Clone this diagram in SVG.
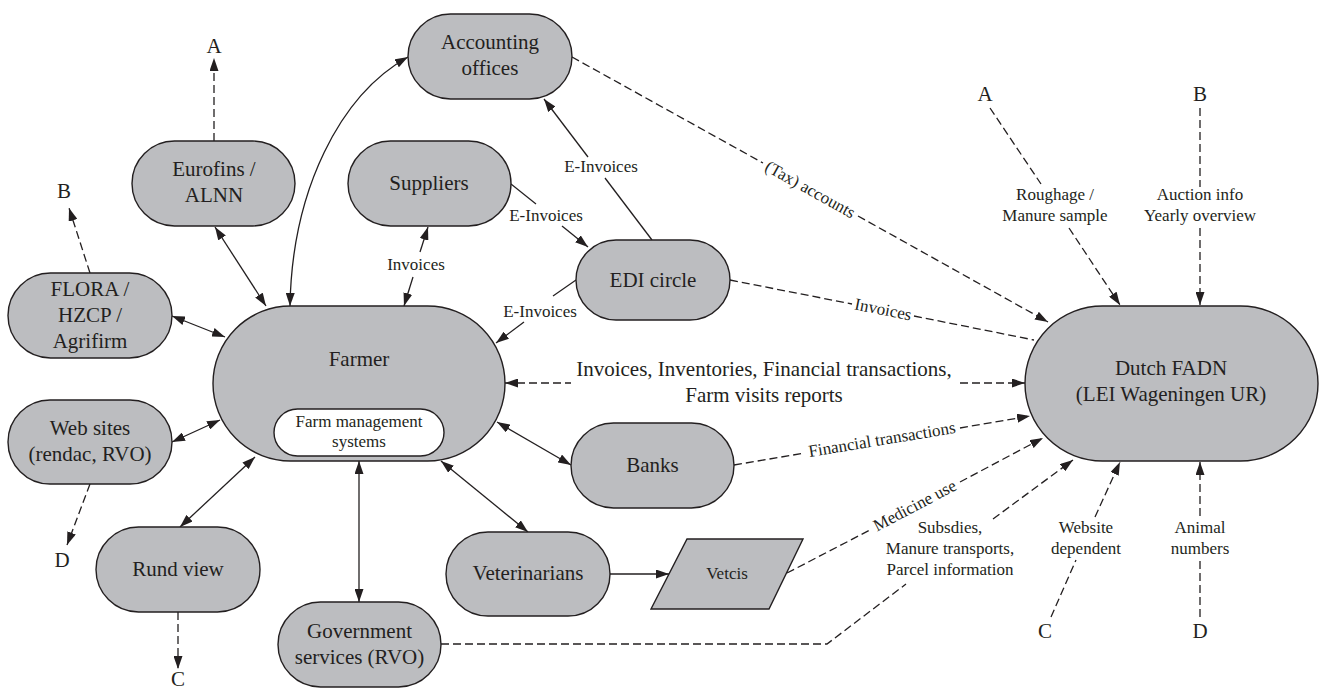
<svg xmlns="http://www.w3.org/2000/svg" width="1320" height="689" viewBox="0 0 1320 689">
<style>
.n{fill:#bcbdc0;stroke:#231f20;stroke-width:1.4}
.w{fill:#ffffff;stroke:#231f20;stroke-width:1.4}
text{font-family:'Liberation Serif','DejaVu Serif',serif;fill:#231f20;text-anchor:middle}
.t{font-size:21px}
.s{font-size:17px}
.l{fill:none;stroke:#231f20;stroke-width:1.3}
.d{fill:none;stroke:#231f20;stroke-width:1.3;stroke-dasharray:8 4}
</style>
<defs>
<marker id="ah" viewBox="0 0 13 9" refX="13" refY="4.5" markerWidth="13" markerHeight="9" markerUnits="userSpaceOnUse" orient="auto-start-reverse">
<path d="M0,0 L13,4.5 L0,9 z" fill="#231f20"/>
</marker>
</defs>

<g id="connectors">
<line class="d" x1="214" y1="141" x2="214" y2="58" marker-end="url(#ah)"/>
<line class="d" x1="90" y1="273" x2="69" y2="208" marker-end="url(#ah)"/>
<line class="d" x1="90" y1="484" x2="67" y2="545" marker-end="url(#ah)"/>
<line class="d" x1="178" y1="612" x2="178" y2="669" marker-end="url(#ah)"/>
<line class="l" x1="215" y1="227" x2="266" y2="306" marker-start="url(#ah)" marker-end="url(#ah)"/>
<path class="l" d="M408 57 C340 95 292 190 290 306" marker-start="url(#ah)" marker-end="url(#ah)"/>
<line class="l" x1="428" y1="227" x2="420" y2="252" marker-start="url(#ah)"/>
<line class="l" x1="413" y1="277" x2="404" y2="306" marker-end="url(#ah)"/>
<line class="l" x1="172" y1="316" x2="225" y2="337" marker-start="url(#ah)" marker-end="url(#ah)"/>
<line class="l" x1="172" y1="442" x2="220" y2="420" marker-start="url(#ah)" marker-end="url(#ah)"/>
<line class="l" x1="180" y1="527" x2="255" y2="457" marker-start="url(#ah)" marker-end="url(#ah)"/>
<line class="l" x1="359" y1="461" x2="359" y2="602" marker-start="url(#ah)" marker-end="url(#ah)"/>
<line class="l" x1="359" y1="409" x2="359" y2="379" marker-end="url(#ah)"/>
<line class="l" x1="497" y1="422" x2="571" y2="465" marker-start="url(#ah)" marker-end="url(#ah)"/>
<line class="l" x1="441" y1="461" x2="528" y2="532" marker-start="url(#ah)" marker-end="url(#ah)"/>
<line class="l" x1="610" y1="574" x2="669" y2="574" marker-end="url(#ah)"/>
<line class="l" x1="511" y1="184" x2="536" y2="204"/>
<line class="l" x1="562" y1="226" x2="588" y2="247" marker-end="url(#ah)"/>
<line class="l" x1="652" y1="240" x2="605" y2="178"/>
<line class="l" x1="588" y1="157" x2="544" y2="99" marker-end="url(#ah)"/>
<line class="l" x1="576" y1="280" x2="553" y2="296"/>
<line class="l" x1="524" y1="322" x2="496" y2="343" marker-end="url(#ah)"/>
<line class="d" x1="572" y1="57" x2="763" y2="163"/>
<line class="d" x1="858" y1="216" x2="1048" y2="322" marker-end="url(#ah)"/>
<line class="d" x1="730" y1="280" x2="852" y2="304"/>
<line class="d" x1="914" y1="316" x2="1034" y2="340"/>
<line class="d" x1="505" y1="383" x2="571" y2="383" marker-start="url(#ah)"/>
<line class="d" x1="960" y1="383" x2="1025" y2="383" marker-end="url(#ah)"/>
<line class="d" x1="734" y1="465" x2="805" y2="453"/>
<line class="d" x1="960" y1="428" x2="1030" y2="416" marker-end="url(#ah)"/>
<line class="d" x1="787" y1="573" x2="870" y2="530"/>
<line class="d" x1="960" y1="482" x2="1043" y2="438" marker-end="url(#ah)"/>
<polyline class="d" points="441,644 827,644 906,584"/>
<line class="d" x1="993" y1="519" x2="1073" y2="460" marker-end="url(#ah)"/>
<line class="d" x1="990" y1="108" x2="1041" y2="184"/>
<line class="d" x1="1069" y1="228" x2="1120" y2="305" marker-end="url(#ah)"/>
<line class="d" x1="1200" y1="108" x2="1200" y2="187"/>
<line class="d" x1="1200" y1="228" x2="1200" y2="305" marker-end="url(#ah)"/>
<line class="d" x1="1051" y1="617" x2="1076" y2="560"/>
<line class="d" x1="1095" y1="517" x2="1120" y2="462" marker-end="url(#ah)"/>
<line class="d" x1="1200" y1="617" x2="1200" y2="561"/>
<line class="d" x1="1200" y1="516" x2="1200" y2="462" marker-end="url(#ah)"/>
</g>

<g id="connector-labels">
<text class="s" x="416" y="270">Invoices</text>
<text class="s" x="546" y="221">E-Invoices</text>
<text class="s" x="601" y="172">E-Invoices</text>
<text class="s" x="540" y="317">E-Invoices</text>
<text class="s" transform="translate(810 190) rotate(29.1)" x="0" y="5">(Tax) accounts</text>
<text class="s" transform="translate(883 310) rotate(11.2)" x="0" y="5">Invoices</text>
<text class="t" x="764" y="376">Invoices, Inventories, Financial transactions,</text>
<text class="t" x="764" y="402">Farm visits reports</text>
<text class="s" transform="translate(882 440) rotate(-9.4)" x="0" y="5">Financial transactions</text>
<text class="s" transform="translate(915 506) rotate(-27.8)" x="0" y="5">Medicine use</text>
<text class="s" x="950" y="533">Subsdies,</text>
<text class="s" x="950" y="554">Manure transports,</text>
<text class="s" x="950" y="575">Parcel information</text>
<text class="s" x="1055" y="200">Roughage /</text>
<text class="s" x="1055" y="221">Manure sample</text>
<text class="s" x="1200" y="200">Auction info</text>
<text class="s" x="1200" y="221">Yearly overview</text>
<text class="s" x="1086" y="533">Website</text>
<text class="s" x="1086" y="554">dependent</text>
<text class="s" x="1200" y="533">Animal</text>
<text class="s" x="1200" y="554">numbers</text>
<text class="t" x="214" y="53">A</text>
<text class="t" x="64" y="198">B</text>
<text class="t" x="62" y="567">D</text>
<text class="t" x="178" y="686">C</text>
<text class="t" x="985" y="101">A</text>
<text class="t" x="1200" y="101">B</text>
<text class="t" x="1045" y="638">C</text>
<text class="t" x="1200" y="638">D</text>
</g>

<g id="accounting">
<rect class="n" x="408" y="14" width="164" height="85" rx="42.5"/>
<text class="t" x="490" y="49">Accounting</text>
<text class="t" x="490" y="75">offices</text>
</g>
<g id="eurofins">
<rect class="n" x="132" y="141" width="163" height="85" rx="42.5"/>
<text class="t" x="214" y="176">Eurofins /</text>
<text class="t" x="214" y="202">ALNN</text>
</g>
<g id="suppliers">
<rect class="n" x="348" y="141" width="163" height="85" rx="42.5"/>
<text class="t" x="429" y="190">Suppliers</text>
</g>
<g id="edi">
<rect class="n" x="576" y="240" width="154" height="80" rx="40"/>
<text class="t" x="653" y="287">EDI circle</text>
</g>
<g id="flora">
<rect class="n" x="8" y="273" width="164" height="85" rx="42.5"/>
<text class="t" x="90" y="296">FLORA /</text>
<text class="t" x="90" y="322">HZCP /</text>
<text class="t" x="90" y="348">Agrifirm</text>
</g>
<g id="farmer">
<rect class="n" x="213" y="306" width="292" height="155" rx="77.5"/>
<text class="t" x="359" y="366">Farmer</text>
</g>
<g id="fms">
<rect class="w" x="274" y="409" width="170" height="47" rx="23.5"/>
<text class="s" x="359" y="427">Farm management</text>
<text class="s" x="359" y="447">systems</text>
</g>
<g id="websites">
<rect class="n" x="8" y="400" width="164" height="84" rx="42"/>
<text class="t" x="90" y="435">Web sites</text>
<text class="t" x="90" y="461">(rendac, RVO)</text>
</g>
<g id="rundview">
<rect class="n" x="96" y="527" width="164" height="85" rx="42.5"/>
<text class="t" x="178" y="576">Rund view</text>
</g>
<g id="government">
<rect class="n" x="278" y="602" width="163" height="85" rx="42.5"/>
<text class="t" x="359.5" y="638">Government</text>
<text class="t" x="359.5" y="664">services (RVO)</text>
</g>
<g id="banks">
<rect class="n" x="571" y="423" width="163" height="85" rx="42.5"/>
<text class="t" x="652.5" y="472">Banks</text>
</g>
<g id="veterinarians">
<rect class="n" x="446" y="532" width="164" height="84" rx="42"/>
<text class="t" x="528" y="580">Veterinarians</text>
</g>
<g id="vetcis">
<polygon class="n" points="687,539 803,539 769,609 651,609"/>
<text class="s" x="727" y="579">Vetcis</text>
</g>
<g id="fadn">
<rect class="n" x="1025" y="306" width="293" height="155" rx="77.5"/>
<text class="t" x="1171" y="375">Dutch FADN</text>
<text class="t" x="1171" y="401">(LEI Wageningen UR)</text>
</g>
</svg>
